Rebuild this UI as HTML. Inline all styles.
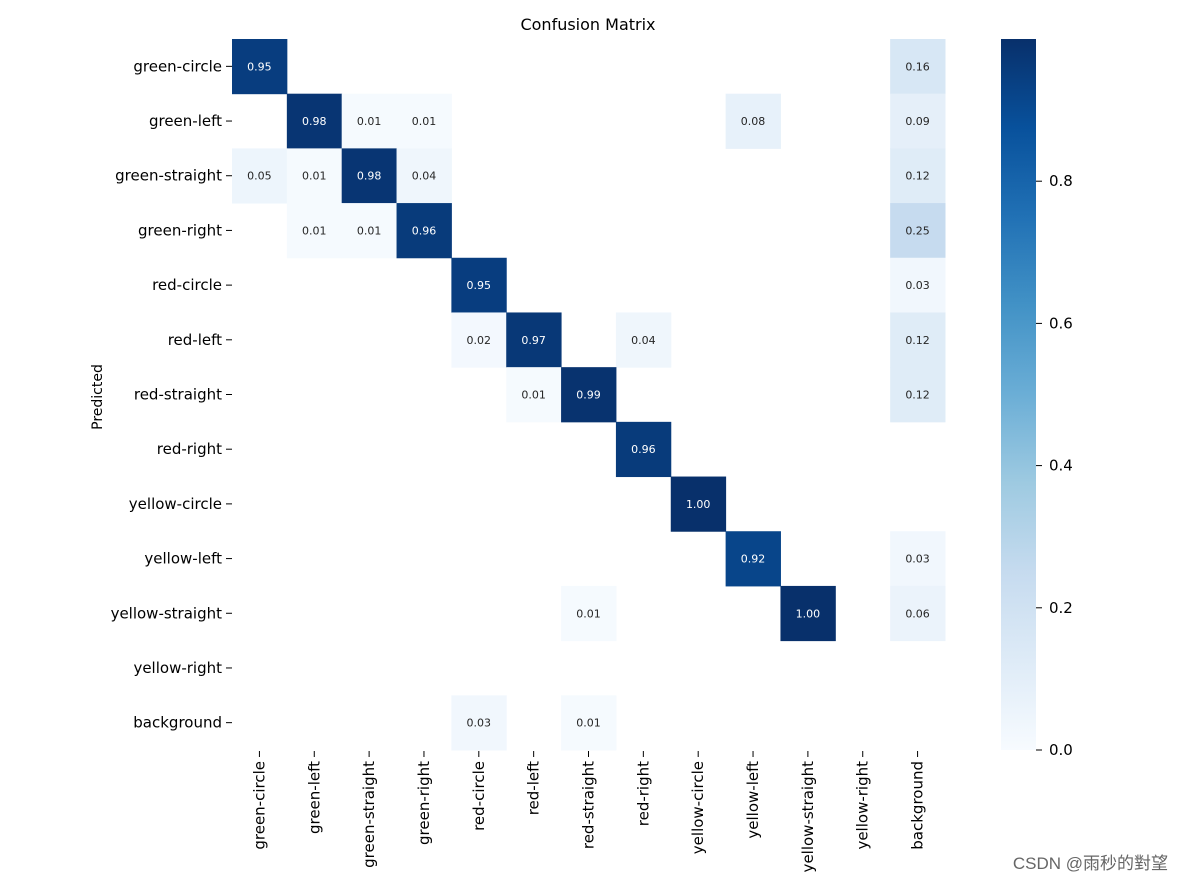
<!DOCTYPE html>
<html><head><meta charset="utf-8"><style>
body{margin:0;background:#fff;}
svg text{font-family:"DejaVu Sans","Liberation Sans",sans-serif;}
</style></head><body>
<svg id="chart" width="1182" height="883" xmlns="http://www.w3.org/2000/svg">
<defs><linearGradient id="cbg" x1="0" y1="1" x2="0" y2="0">
<stop offset="0" stop-color="#f7fbff"/><stop offset="0.125" stop-color="#deebf7"/><stop offset="0.25" stop-color="#c6dbef"/><stop offset="0.375" stop-color="#9ecae1"/><stop offset="0.5" stop-color="#6baed6"/><stop offset="0.625" stop-color="#4292c6"/><stop offset="0.75" stop-color="#2171b5"/><stop offset="0.875" stop-color="#08519c"/><stop offset="1" stop-color="#08306b"/></linearGradient></defs>
<text x="588" y="30" font-size="16" text-anchor="middle" fill="#000">Confusion Matrix</text>
<text transform="translate(102,397) rotate(-90)" font-size="14" text-anchor="middle" fill="#000">Predicted</text>
<g id="cells"></g><g id="labels"></g>
<rect x="1001" y="39" width="35" height="711" fill="url(#cbg)"/>
<g id="cbticks"></g>
<text x="1168" y="869" font-size="17" text-anchor="end" fill="#666" style='font-family:"Liberation Sans","Noto Sans CJK TC",sans-serif'>CSDN @雨秒的對望</text>
</svg>
<script>
const classes=["green-circle","green-left","green-straight","green-right","red-circle","red-left","red-straight","red-right","yellow-circle","yellow-left","yellow-straight","yellow-right","background"];
const matrix=[
[0.95,0,0,0,0,0,0,0,0,0,0,0,0.16],
[0,0.98,0.01,0.01,0,0,0,0,0,0.08,0,0,0.09],
[0.05,0.01,0.98,0.04,0,0,0,0,0,0,0,0,0.12],
[0,0.01,0.01,0.96,0,0,0,0,0,0,0,0,0.25],
[0,0,0,0,0.95,0,0,0,0,0,0,0,0.03],
[0,0,0,0,0.02,0.97,0,0.04,0,0,0,0,0.12],
[0,0,0,0,0,0.01,0.99,0,0,0,0,0,0.12],
[0,0,0,0,0,0,0,0.96,0,0,0,0,0],
[0,0,0,0,0,0,0,0,1.00,0,0,0,0],
[0,0,0,0,0,0,0,0,0,0.92,0,0,0.03],
[0,0,0,0,0,0,0.01,0,0,0,1.00,0,0.06],
[0,0,0,0,0,0,0,0,0,0,0,0,0],
[0,0,0,0,0.03,0,0.01,0,0,0,0,0,0]];
const cbTicks=[0,0.2,0.4,0.6,0.8];
const stops=["#f7fbff","#deebf7","#c6dbef","#9ecae1","#6baed6","#4292c6","#2171b5","#08519c","#08306b"];
const NS="http://www.w3.org/2000/svg";
const X0=232,Y0=39,W=713,H=711,n=classes.length,cw=W/n,ch=H/n,VMAX=1.0;
const xs=i=>X0+i*cw, ys=i=>Y0+i*ch, cy=v=>750-v/VMAX*711;
function hex(h){return [1,3,5].map(k=>parseInt(h.substr(k,2),16));}
function blues(v){let t=Math.max(0,Math.min(1,v/VMAX))*8;let i=Math.min(7,Math.floor(t)),f=t-i;let a=hex(stops[i]),b=hex(stops[i+1]);return "rgb("+a.map((c,k)=>Math.round(c+(b[k]-c)*f)).join(",")+")";}
function mk(tag,attrs,parent){const e=document.createElementNS(NS,tag);for(const k in attrs)e.setAttribute(k,attrs[k]);parent.appendChild(e);return e;}
const cells=document.getElementById('cells'),labels=document.getElementById('labels'),cb=document.getElementById('cbticks');
matrix.forEach((row,r)=>row.forEach((v,c)=>{
 if(v<0.005)return;
 const rc=mk('rect',{x:xs(c),y:ys(r),width:cw+0.5,height:ch+0.5,fill:blues(v)},cells);
 
 
 const t=mk('text',{x:xs(c)+cw/2,y:ys(r)+ch/2+4,'font-size':11,'text-anchor':'middle',fill:v>0.5?'#fff':'#262626'},cells);
 t.textContent=v.toFixed(2);
 
 
}));
classes.forEach((name,i)=>{
 const t=mk('text',{x:222,y:ys(i)+ch/2+5,'font-size':15,'text-anchor':'end',fill:'#000'},labels);
 t.textContent=name;
 
 
 mk('line',{x1:226,x2:232,y1:ys(i)+ch/2,y2:ys(i)+ch/2,stroke:'#000','stroke-width':1},labels);
 const px=xs(i)+cw/2;
 mk('line',{x1:px,x2:px,y1:751,y2:757,stroke:'#000','stroke-width':1},labels);
 const tx=mk('text',{transform:'translate('+(px+5)+',761) rotate(-90)','font-size':15,'text-anchor':'end',fill:'#000'},labels);
 tx.textContent=name;
 
 
});
cbTicks.forEach(v=>{
 const y=cy(v);
 mk('line',{x1:1036,x2:1042,y1:y,y2:y,stroke:'#000','stroke-width':1},cb);
 const t=mk('text',{x:1049,y:y+5,'font-size':15,fill:'#000'},cb);
 t.textContent=v.toFixed(1);
 
 
});
</script>
</body></html>
